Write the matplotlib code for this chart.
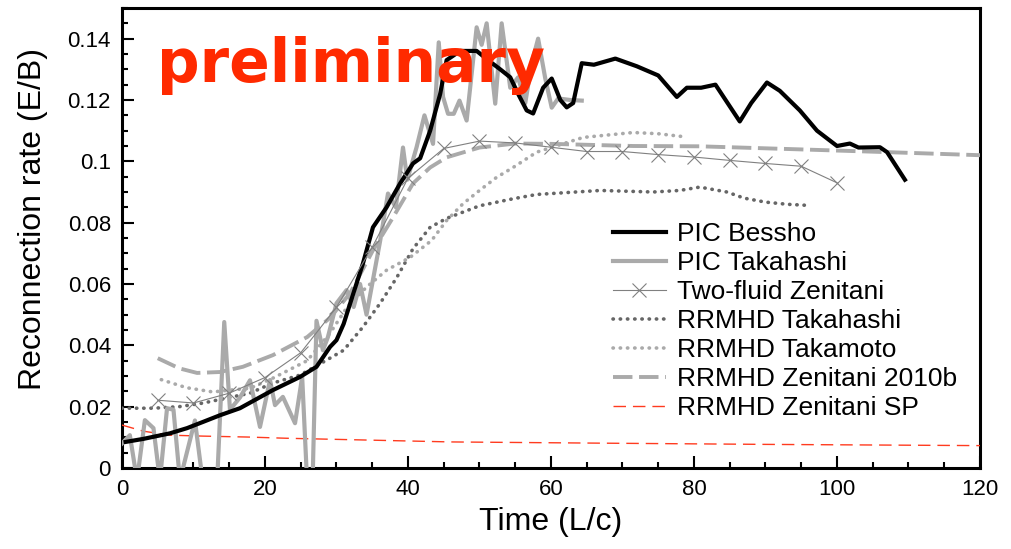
import matplotlib
matplotlib.use("Agg")
import matplotlib.pyplot as plt
from matplotlib.ticker import MultipleLocator

# --- data ---
bessho_t = [0.5, 3, 6.7, 9.1, 11.3, 13.7, 16.5, 21.1, 24.9, 27.2, 29.1, 30, 31, 31.9,
            33.7, 35.1, 37, 38.9, 40.7, 41.7, 43.1, 44.5, 45.4, 47.3, 49.6, 51.2,
            52.9, 54.3, 55.4, 56.6, 57.5, 58.9, 60.1, 61.3, 62.2, 63.1, 64.3, 66,
            69, 72, 75, 77.6, 79, 81, 83, 86.4, 88, 90.2, 92, 94.8, 97.2, 100,
            101.8, 103, 106, 107, 109.5]
bessho_v = [0.0085, 0.0095, 0.0113, 0.013, 0.015, 0.0172, 0.0195, 0.0254, 0.0297, 0.033,
            0.0395, 0.0417, 0.047, 0.0536, 0.0667, 0.0785, 0.085, 0.0928, 0.0993, 0.101,
            0.110, 0.122, 0.133, 0.136, 0.136, 0.133, 0.130, 0.1274, 0.122, 0.1166,
            0.1156, 0.124, 0.127, 0.120, 0.1176, 0.119, 0.132, 0.1315, 0.1335, 0.131,
            0.128, 0.121, 0.124, 0.124, 0.125, 0.113, 0.119, 0.1257, 0.123, 0.1166,
            0.110, 0.105, 0.1058, 0.1045, 0.1046, 0.103, 0.094]

pic_tak_t = [0.0, 1.1, 2.1, 3.2, 4.4, 5.3, 6.3, 7.2, 8.1, 10.2, 11.6, 13.2, 14.3, 15.1,
             16.5, 17.9, 19.3, 20.7, 21.4, 22.5, 24.2, 25.2, 26.0, 26.6, 27.2, 28.1,
             28.8, 30.0, 31.4, 32.4, 33.3, 34.2, 36.1, 37.2, 38.3, 39.3, 39.9, 41.2,
             42.3, 43.5, 44.3, 44.9, 45.6, 46.4, 47.2, 48.2, 49.6, 50.3, 51.0, 52.2,
             53.1, 54.3, 55.4, 56.4, 57.3, 58.2, 59.2, 60.1, 61.0, 62.7, 64.3]
pic_tak_v = [0.008, 0.0107, -0.004, 0.0156, 0.013, -0.004, 0.0195, 0.019, -0.004, 0.0155,
             -0.01, -0.01, 0.0476, 0.019, 0.023, 0.0286, 0.0134, 0.0287, 0.0205, 0.0232,
             0.0146, 0.0297, -0.01, -0.01, 0.048, 0.0384, 0.0427, 0.0537, 0.058, 0.0525,
             0.060, 0.050, 0.074, 0.0895, 0.085, 0.1045, 0.094, 0.1046, 0.115, 0.1057,
             0.1388, 0.121, 0.1155, 0.1155, 0.1198, 0.1133, 0.1437, 0.138, 0.145, 0.1188,
             0.145, 0.124, 0.1274, 0.119, 0.132, 0.140, 0.127, 0.1175, 0.1205, 0.120, 0.1198]

twofluid_t = [5, 10, 15, 20, 25, 30, 35, 40, 45, 50, 55, 60, 65, 70, 75, 80, 85, 90, 95, 100]
twofluid_v = [0.0221, 0.0212, 0.0244, 0.0295, 0.0376, 0.0524, 0.072, 0.0945, 0.1042, 0.1066,
              0.106, 0.1046, 0.1032, 0.1032, 0.1022, 0.1014, 0.1003, 0.0993, 0.0984, 0.093]

rrmhd_tak_t = [0, 4.4, 8, 11.4, 14, 17.9, 21.1, 24.9, 28.1, 31, 33.7, 36.1, 38.4, 40.7,
               43.1, 45.4, 50, 54.7, 58, 66.9, 74.3, 78, 80.8, 84.6, 87, 90, 93, 96.2]
rrmhd_tak_v = [0.0195, 0.0195, 0.020, 0.0212, 0.0225, 0.0244, 0.0277, 0.0303, 0.0345, 0.0384,
               0.046, 0.0537, 0.062, 0.0715, 0.0785, 0.0814, 0.0855, 0.0878, 0.0892, 0.0905,
               0.090, 0.0905, 0.0916, 0.090, 0.088, 0.0867, 0.086, 0.0856]

takamoto_t = [5.5, 9, 12.7, 15.1, 17.9, 21.1, 25.9, 29.1, 31.5, 34.2, 37, 40.3, 43.3, 45.4,
              47.7, 50, 52.4, 54.7, 58, 64.5, 71.5, 75, 78.7]
takamoto_v = [0.0288, 0.0262, 0.0248, 0.0254, 0.026, 0.0293, 0.035, 0.044, 0.0525, 0.059,
              0.0645, 0.0687, 0.0742, 0.0807, 0.0862, 0.0905, 0.0948, 0.098, 0.103, 0.1078,
              0.1094, 0.109, 0.108]

zen2010_t = [5, 8, 10.5, 13.7, 16.9, 21.1, 25.9, 29.1, 31.9, 35.1, 37.9, 40.7, 43.1, 45.4,
             50, 55, 60, 71.5, 80.8, 94.8, 107, 120]
zen2010_v = [0.0358, 0.0325, 0.031, 0.0313, 0.033, 0.0368, 0.0427, 0.049, 0.057, 0.071,
             0.0817, 0.0928, 0.098, 0.1013, 0.1045, 0.1058, 0.1057, 0.105, 0.1049, 0.1039,
             0.103, 0.102]

zensp_t = [0, 3, 6.7, 11.3, 17.5, 23, 46, 67, 90, 120]
zensp_v = [0.0140, 0.0120, 0.0107, 0.0104, 0.0101, 0.0097, 0.0085, 0.0081, 0.0077, 0.0073]

plt.rcParams["font.family"] = ["Liberation Sans", "DejaVu Sans"]

fig = plt.figure(figsize=(10.12, 5.49), dpi=100)
ax = fig.add_axes([122 / 1012, 81 / 549, 858 / 1012, 460 / 549])

dots = (0, (0.1, 1.9))
ax.plot(bessho_t, bessho_v, color="black", lw=3, label="PIC Bessho", zorder=5)
ax.plot(pic_tak_t, pic_tak_v, color="#aaaaaa", lw=3, label="PIC Takahashi", zorder=4)
ax.plot(twofluid_t, twofluid_v, color="#808080", lw=0.8, marker="x", ms=10, mew=0.8,
        label="Two-fluid Zenitani", zorder=6)
ax.plot(rrmhd_tak_t, rrmhd_tak_v, color="#666666", lw=2.6, ls=dots,
        dash_capstyle="round", label="RRMHD Takahashi", zorder=3)
ax.plot(takamoto_t, takamoto_v, color="#aaaaaa", lw=2.6, ls=dots,
        dash_capstyle="round", label="RRMHD Takamoto", zorder=3)
ax.plot(zen2010_t, zen2010_v, color="#aaaaaa", lw=2.8, ls=(0, (5, 1.7)),
        label="RRMHD Zenitani 2010b", zorder=3)
ax.plot(zensp_t, zensp_v, color="#ff3b1f", lw=1.0, ls=(0, (9, 5)),
        label="RRMHD Zenitani SP", zorder=3)

ax.set_xlim(0, 120)
ax.set_ylim(0, 0.15)
ax.xaxis.set_major_locator(MultipleLocator(20))
ax.xaxis.set_minor_locator(MultipleLocator(5))
ax.yaxis.set_minor_locator(MultipleLocator(0.005))
ax.set_yticks([0, 0.02, 0.04, 0.06, 0.08, 0.1, 0.12, 0.14])
ax.set_yticklabels(["0", "0.02", "0.04", "0.06", "0.08", "0.1", "0.12", "0.14"])

for s in ax.spines.values():
    s.set_linewidth(2.2)
ax.tick_params(which="both", direction="in", top=False, right=False,
               labelsize=16, width=1.5)
ax.tick_params(which="major", length=8.5, pad=8)
ax.tick_params(which="minor", length=4.3)

ax.set_xlabel("Time (L/c)", fontsize=23, labelpad=5)
ax.set_ylabel("Reconnection rate (E/B)", fontsize=23)
ax.yaxis.set_label_coords(-0.086, 0.541)

ax.legend(loc="upper left", bbox_to_anchor=(0.572, 0.535), frameon=False,
          fontsize=19, handlelength=2.0, handletextpad=0.45, labelspacing=0.19,
          borderpad=0, borderaxespad=0)

fig.text(157 / 1012, 1 - 82 / 549, "preliminary", color="#ff2a00", fontsize=43,
         fontweight="bold", family="DejaVu Sans", va="baseline", ha="left",
         zorder=10)

fig.savefig("out.png", dpi=100)
